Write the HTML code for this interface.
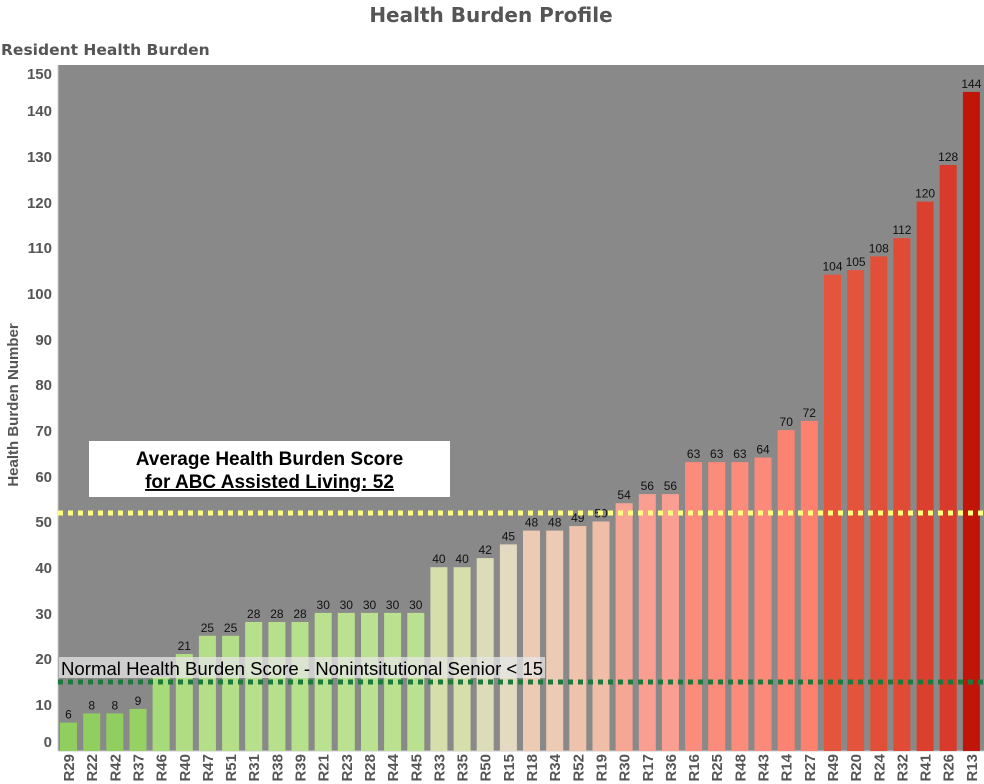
<!DOCTYPE html>
<html><head><meta charset="utf-8"><style>
html,body{margin:0;padding:0;background:#fff;}
svg{display:block;font-family:"Liberation Sans",Arial,sans-serif;}
.v{font-size:12px;fill:#111;text-anchor:middle;}
.xl{font-size:15px;font-weight:bold;fill:#555;text-anchor:end;}
.yl{font-size:15px;font-weight:bold;fill:#555;text-anchor:end;}
</style></head><body>
<svg width="984" height="784" viewBox="0 0 984 784">
<text x="491" y="22" text-anchor="middle" font-size="20" font-weight="bold" fill="#555" font-family="DejaVu Sans, sans-serif">Health Burden Profile</text>
<text x="1" y="55" font-size="15.5" fill="#555" font-weight="bold" font-family="DejaVu Sans, sans-serif">Resident Health Burden</text>
<rect x="58" y="65" width="926" height="686" fill="#898989"/>
<line x1="58" y1="751" x2="984" y2="751" stroke="#ccc"/>
<line x1="58" y1="65" x2="58" y2="751" stroke="#ccc"/>
<g class="yl">
<text x="52" y="79">150</text><text x="52" y="116">140</text><text x="52" y="162">130</text><text x="52" y="208">120</text><text x="52" y="253">110</text><text x="52" y="299">100</text><text x="52" y="345">90</text><text x="52" y="390">80</text><text x="52" y="436">70</text><text x="52" y="482">60</text><text x="52" y="527">50</text><text x="52" y="573">40</text><text x="52" y="619">30</text><text x="52" y="664">20</text><text x="52" y="710">10</text><text x="52" y="747">0</text>
</g>
<text transform="translate(18,405) rotate(-90)" text-anchor="middle" font-size="15" font-weight="bold" fill="#555">Health Burden Number</text>
<g>
<rect x="60.0" y="722.6" width="17" height="28.4" fill="#8fce5f"/>
<rect x="83.2" y="713.4" width="17" height="37.6" fill="#8fce5f"/>
<rect x="106.3" y="713.4" width="17" height="37.6" fill="#8fce5f"/>
<rect x="129.5" y="708.9" width="17" height="42.1" fill="#95d165"/>
<rect x="152.6" y="676.9" width="17" height="74.1" fill="#a7da79"/>
<rect x="175.8" y="654.0" width="17" height="97" fill="#b0dd83"/>
<rect x="198.9" y="635.8" width="17" height="115.2" fill="#b4df88"/>
<rect x="222.1" y="635.8" width="17" height="115.2" fill="#b4df88"/>
<rect x="245.2" y="622.0" width="17" height="129" fill="#b7e08c"/>
<rect x="268.4" y="622.0" width="17" height="129" fill="#b7e08c"/>
<rect x="291.5" y="622.0" width="17" height="129" fill="#b7e08c"/>
<rect x="314.7" y="612.9" width="17" height="138.1" fill="#bae18f"/>
<rect x="337.8" y="612.9" width="17" height="138.1" fill="#bae18f"/>
<rect x="361.0" y="612.9" width="17" height="138.1" fill="#bae18f"/>
<rect x="384.1" y="612.9" width="17" height="138.1" fill="#bae18f"/>
<rect x="407.3" y="612.9" width="17" height="138.1" fill="#bae18f"/>
<rect x="430.4" y="567.2" width="17" height="183.8" fill="#d6dfac"/>
<rect x="453.6" y="567.2" width="17" height="183.8" fill="#d6dfac"/>
<rect x="476.7" y="558.1" width="17" height="192.9" fill="#dddcb8"/>
<rect x="499.9" y="544.4" width="17" height="206.6" fill="#e4dac2"/>
<rect x="523.0" y="530.6" width="17" height="220.4" fill="#edcab3"/>
<rect x="546.2" y="530.6" width="17" height="220.4" fill="#edcab3"/>
<rect x="569.3" y="526.1" width="17" height="224.9" fill="#efc2ab"/>
<rect x="592.5" y="521.5" width="17" height="229.5" fill="#f0bea6"/>
<rect x="615.6" y="503.2" width="17" height="247.8" fill="#f7a595"/>
<rect x="638.8" y="494.1" width="17" height="256.9" fill="#f99e90"/>
<rect x="661.9" y="494.1" width="17" height="256.9" fill="#f99e90"/>
<rect x="685.1" y="462.1" width="17" height="288.9" fill="#fb8b7b"/>
<rect x="708.2" y="462.1" width="17" height="288.9" fill="#fb8b7b"/>
<rect x="731.4" y="462.1" width="17" height="288.9" fill="#fb8b7b"/>
<rect x="754.5" y="457.5" width="17" height="293.5" fill="#fb8a7a"/>
<rect x="777.7" y="430.1" width="17" height="320.9" fill="#fc8371"/>
<rect x="800.8" y="420.9" width="17" height="330.1" fill="#fc826f"/>
<rect x="824.0" y="274.7" width="17" height="476.3" fill="#e5553d"/>
<rect x="847.1" y="270.2" width="17" height="480.8" fill="#e4533b"/>
<rect x="870.3" y="256.4" width="17" height="494.6" fill="#e24f38"/>
<rect x="893.4" y="238.2" width="17" height="512.8" fill="#e04b35"/>
<rect x="916.6" y="201.6" width="17" height="549.4" fill="#db402e"/>
<rect x="939.7" y="165.0" width="17" height="586" fill="#d83a2b"/>
<rect x="962.9" y="91.9" width="17" height="659.1" fill="#c0160a"/>
</g>
<g class="v">
<text x="68.5" y="718.6">6</text><text x="91.7" y="709.4">8</text><text x="114.8" y="709.4">8</text><text x="138" y="704.9">9</text>
<text x="184.3" y="650">21</text><text x="207.4" y="631.8">25</text><text x="230.6" y="631.8">25</text>
<text x="253.7" y="618">28</text><text x="276.9" y="618">28</text><text x="300" y="618">28</text>
<text x="323.2" y="608.9">30</text><text x="346.3" y="608.9">30</text><text x="369.5" y="608.9">30</text><text x="392.6" y="608.9">30</text><text x="415.8" y="608.9">30</text>
<text x="438.9" y="563.2">40</text><text x="462.1" y="563.2">40</text><text x="485.2" y="554.1">42</text><text x="508.4" y="540.4">45</text>
<text x="531.5" y="526.6">48</text><text x="554.7" y="526.6">48</text><text x="577.8" y="522.1">49</text><text x="601" y="517.5">50</text>
<text x="624.1" y="499.2">54</text><text x="647.3" y="490.1">56</text><text x="670.4" y="490.1">56</text>
<text x="693.6" y="458.1">63</text><text x="716.7" y="458.1">63</text><text x="739.9" y="458.1">63</text><text x="763" y="453.5">64</text>
<text x="786.2" y="426.1">70</text><text x="809.3" y="416.9">72</text>
<text x="832.5" y="270.7">104</text><text x="855.6" y="266.2">105</text><text x="878.8" y="252.4">108</text><text x="901.9" y="234.2">112</text>
<text x="925.1" y="197.6">120</text><text x="948.2" y="161">128</text><text x="971.4" y="87.9">144</text>
</g>
<line x1="58" y1="513" x2="984" y2="513" stroke="#ffff80" stroke-width="5" stroke-dasharray="5,5"/>
<line x1="58" y1="682" x2="984" y2="682" stroke="#1e7a3c" stroke-width="5" stroke-dasharray="5,5"/>
<rect x="89" y="441" width="361" height="56" fill="#fff"/>
<text x="269.5" y="465" text-anchor="middle" font-size="19" font-weight="bold" fill="#000">Average Health Burden Score</text>
<text x="269.5" y="488" text-anchor="middle" font-size="19" font-weight="bold" fill="#000" text-decoration="underline">for ABC Assisted Living:  52</text>
<rect x="59" y="657" width="486" height="21" fill="#e6e6e6" fill-opacity="0.75"/>
<text x="61" y="675" font-size="18.6" fill="#000">Normal Health Burden Score - Nonintsitutional Senior &lt; 15</text>
<g class="xl">
<text transform="translate(74,754) rotate(-90)">R29</text>
<text transform="translate(97.2,754) rotate(-90)">R22</text>
<text transform="translate(120.3,754) rotate(-90)">R42</text>
<text transform="translate(143.5,754) rotate(-90)">R37</text>
<text transform="translate(166.6,754) rotate(-90)">R46</text>
<text transform="translate(189.8,754) rotate(-90)">R40</text>
<text transform="translate(212.9,754) rotate(-90)">R47</text>
<text transform="translate(236.1,754) rotate(-90)">R51</text>
<text transform="translate(259.2,754) rotate(-90)">R31</text>
<text transform="translate(282.4,754) rotate(-90)">R38</text>
<text transform="translate(305.5,754) rotate(-90)">R39</text>
<text transform="translate(328.7,754) rotate(-90)">R21</text>
<text transform="translate(351.8,754) rotate(-90)">R23</text>
<text transform="translate(375,754) rotate(-90)">R28</text>
<text transform="translate(398.1,754) rotate(-90)">R44</text>
<text transform="translate(421.3,754) rotate(-90)">R45</text>
<text transform="translate(444.4,754) rotate(-90)">R33</text>
<text transform="translate(467.6,754) rotate(-90)">R35</text>
<text transform="translate(490.7,754) rotate(-90)">R50</text>
<text transform="translate(513.9,754) rotate(-90)">R15</text>
<text transform="translate(537,754) rotate(-90)">R18</text>
<text transform="translate(560.2,754) rotate(-90)">R34</text>
<text transform="translate(583.3,754) rotate(-90)">R52</text>
<text transform="translate(606.5,754) rotate(-90)">R19</text>
<text transform="translate(629.6,754) rotate(-90)">R30</text>
<text transform="translate(652.8,754) rotate(-90)">R17</text>
<text transform="translate(675.9,754) rotate(-90)">R36</text>
<text transform="translate(699.1,754) rotate(-90)">R16</text>
<text transform="translate(722.2,754) rotate(-90)">R25</text>
<text transform="translate(745.4,754) rotate(-90)">R48</text>
<text transform="translate(768.5,754) rotate(-90)">R43</text>
<text transform="translate(791.7,754) rotate(-90)">R14</text>
<text transform="translate(814.8,754) rotate(-90)">R27</text>
<text transform="translate(838,754) rotate(-90)">R49</text>
<text transform="translate(861.1,754) rotate(-90)">R20</text>
<text transform="translate(884.3,754) rotate(-90)">R24</text>
<text transform="translate(907.4,754) rotate(-90)">R32</text>
<text transform="translate(930.6,754) rotate(-90)">R41</text>
<text transform="translate(953.7,754) rotate(-90)">R26</text>
<text transform="translate(976.9,754) rotate(-90)">R13</text>
</g>
</svg>
</body></html>
